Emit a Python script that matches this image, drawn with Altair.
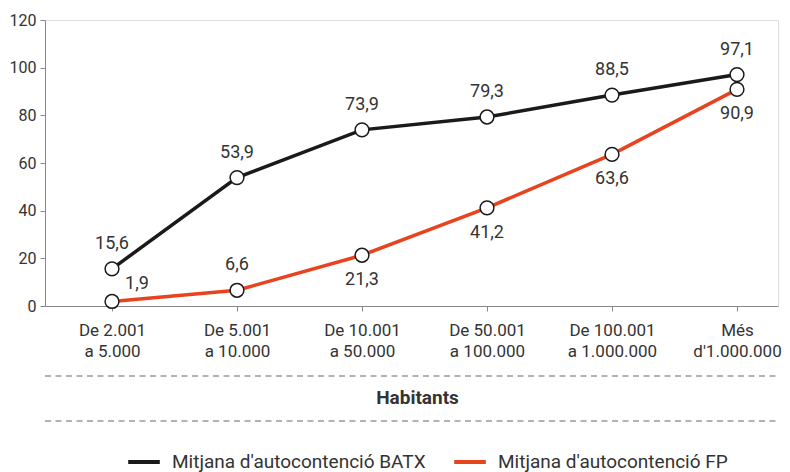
import json
import altair as alt
import pandas as pd

# ---- data ----
categories = [
    ["De 2.001", "a 5.000"],
    ["De 5.001", "a 10.000"],
    ["De 10.001", "a 50.000"],
    ["De 50.001", "a 100.000"],
    ["De 100.001", "a 1.000.000"],
    ["Més", "d'1.000.000"],
]
series_names = ["Mitjana d'autocontenció BATX", "Mitjana d'autocontenció FP"]
batx = [15.6, 53.9, 73.9, 79.3, 88.5, 97.1]
fp = [1.9, 6.6, 21.3, 41.2, 63.6, 90.9]
batx_pos = ["above"] * 6
fp_pos = ["aboveright", "above", "below", "below", "below", "below"]
y_ticks = [0, 20, 40, 60, 80, 100, 120]
x_title = "Habitants"

rows = []
for name, vals, poss in [(series_names[0], batx, batx_pos), (series_names[1], fp, fp_pos)]:
    for i, (v, p) in enumerate(zip(vals, poss)):
        rows.append({"idx": i, "series": name, "value": v,
                     "label": f"{v:.1f}".replace(".", ","), "pos": p})
df = pd.DataFrame(rows)

W, H = 733, 286
FONT = "Roboto"
TXT = "#333333"
colors = ["#1a1a1a", "#e8431f"]

label_expr = json.dumps(categories) + "[datum.value]"

x = alt.X("idx:Q", scale=alt.Scale(domain=[-0.536, 5.328], nice=False, zero=False),
          axis=alt.Axis(values=list(range(len(categories))), labelExpr=label_expr,
                        title=None, grid=False, domainColor="#888888", tickColor="#888888",
                        tickSize=5, labelPadding=11, labelFontSize=17, labelColor=TXT,
                        labelLineHeight=21, labelFont=FONT))
y = alt.Y("value:Q", scale=alt.Scale(domain=[0, 120], nice=False),
          axis=alt.Axis(values=y_ticks, title=None, grid=False, domainColor="#888888",
                        tickColor="#888888", tickSize=5, labelPadding=4, labelFontSize=16,
                        labelColor=TXT, labelFont=FONT))

base = alt.Chart(df)

lines = base.mark_line(strokeWidth=3.5).encode(
    x=x, y=y,
    color=alt.Color("series:N",
                    scale=alt.Scale(domain=series_names, range=colors),
                    legend=alt.Legend(title=None, orient="none", direction="horizontal",
                                      legendX=81, legendY=424, symbolType="stroke",
                                      symbolSize=1000, symbolStrokeWidth=4,
                                      labelFontSize=19, labelColor=TXT, labelFont=FONT,
                                      labelOffset=10, columnPadding=20,
                                      labelLimit=400)),
    detail="series:N",
)

points = base.mark_point(filled=True, fill="white", stroke="#1a1a1a", strokeWidth=1.5,
                         size=190, opacity=1).encode(x=x, y=y)

def labels(pos, dx, dy):
    return base.transform_filter(alt.datum.pos == pos).mark_text(
        dx=dx, dy=dy, fontSize=18, color=TXT, font=FONT, baseline="middle", align="center"
    ).encode(x=x, y=y, text="label:N")

t_above = labels("above", 0, -25)
t_below = labels("below", 0, 25)
t_ar = labels("aboveright", 25, -17)

deco = pd.DataFrame({"k": [0]})
rule1 = alt.Chart(deco).mark_rule(color="#999999", strokeDash=[6, 4.5], strokeWidth=1.3).encode(
    x=alt.value(0), x2=alt.value(W), y=alt.value(356))
rule2 = alt.Chart(deco).mark_rule(color="#999999", strokeDash=[6, 4.5], strokeWidth=1.3).encode(
    x=alt.value(0), x2=alt.value(W), y=alt.value(401))
title_txt = alt.Chart(pd.DataFrame({"t": [x_title]})).mark_text(
    fontSize=19, fontWeight="bold", color=TXT, font=FONT, baseline="middle", align="center"
).encode(x=alt.value(372.5), y=alt.value(378), text="t:N")

chart = alt.layer(lines, points, t_above, t_below, t_ar, rule1, rule2, title_txt).properties(
    width=W, height=H,
    autosize=alt.AutoSizeParams(type="none"),
    padding={"left": 37, "top": 12, "right": 4, "bottom": 170},
).configure_view(stroke=None).configure(font=FONT)

chart.save("out.html", embed_options={"renderer": "svg", "actions": False})
